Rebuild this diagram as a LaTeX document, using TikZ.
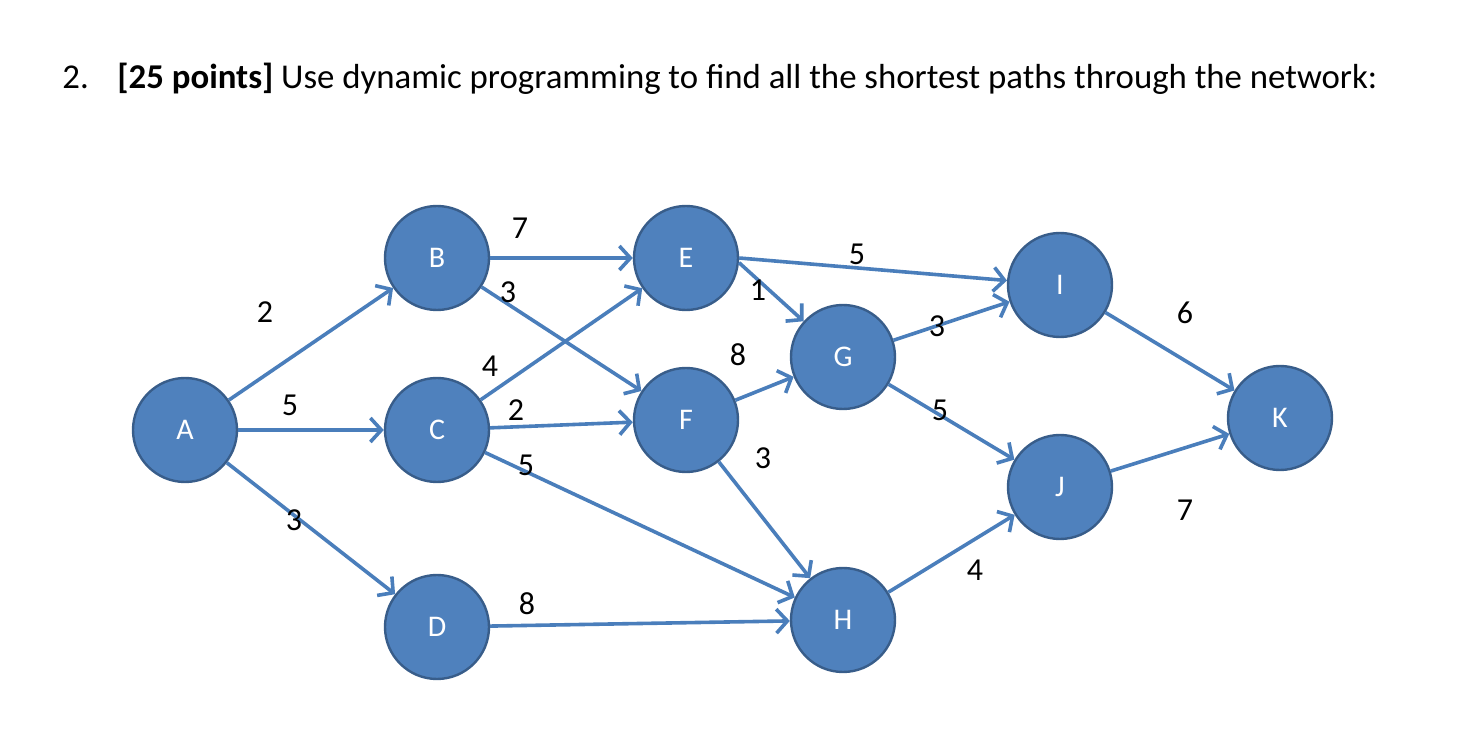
\documentclass[tikz,border=0pt]{standalone}
\usepackage{fontspec}
\setmainfont{Carlito}
\usetikzlibrary{arrows.meta}
\definecolor{nodeblue}{RGB}{79,129,189}
\definecolor{rimblue}{RGB}{56,93,138}
\definecolor{lineblue}{RGB}{74,126,187}
\begin{document}
\begin{tikzpicture}[x=0.5pt,y=-0.5pt,
  vertex/.style={circle,fill=nodeblue,draw=rimblue,line width=1.2pt,minimum size=52pt,inner sep=0pt,text=white,font=\fontsize{15}{17}\selectfont},
  edge/.style={draw=lineblue,line width=1.8pt,-{Straight Barb[length=5.5pt,width=12pt,line width=1.8pt]}},
  weight/.style={font=\fontsize{16}{18}\selectfont,inner sep=0pt}]
  \useasboundingbox (0,0) rectangle (1480,748);
  \node[anchor=base west,inner sep=0pt,font=\fontsize{17.4}{20}\selectfont] (title) at (62,89)
    {\makebox[27.5pt][l]{2.}\textbf{[25 points]} Use dynamic programming to find all the shortest paths through the network:};
  % nodes
  \node[vertex] (A) at (185,430) {A};
  \node[vertex] (B) at (437,258) {B};
  \node[vertex] (C) at (437,430) {C};
  \node[vertex] (D) at (437,627) {D};
  \node[vertex] (E) at (686,258) {E};
  \node[vertex] (F) at (686,420) {F};
  \node[vertex] (G) at (843,357) {G};
  \node[vertex] (H) at (843,620) {H};
  \node[vertex] (I) at (1060,285) {I};
  \node[vertex] (J) at (1060,487) {J};
  \node[vertex] (K) at (1280,418) {K};
  % arcs
  \draw[edge] (A) -- (B);
  \draw[edge] (A) -- (C);
  \draw[edge] (A) -- (D);
  \draw[edge] (B) -- (E);
  \draw[edge] (B) -- (F);
  \draw[edge] (C) -- (E);
  \draw[edge] (C) -- (F);
  \draw[edge] (C) -- (H);
  \draw[edge] (D) -- (H);
  \draw[edge] (E.east) -- (I);
  \draw[edge] (E.-5) -- (G);
  \draw[edge] (F) -- (G);
  \draw[edge] (F) -- (H);
  \draw[edge] (G) -- (I);
  \draw[edge] (G) -- (J);
  \draw[edge] (H) -- (J);
  \draw[edge] (I) -- (K);
  \draw[edge] (J) -- (K);
  % weights
  \node[weight] (wAB) at (265,312) {2};
  \node[weight] (wAC) at (290,405) {5};
  \node[weight] (wAD) at (294,520) {3};
  \node[weight] (wBE) at (520,228) {7};
  \node[weight] (wBF) at (508,292) {3};
  \node[weight] (wCE) at (490,366) {4};
  \node[weight] (wCF) at (516,410) {2};
  \node[weight] (wCH) at (526,465) {5};
  \node[weight] (wDH) at (527,604) {8};
  \node[weight] (wEI) at (857,254) {5};
  \node[weight] (wEG) at (758,290) {1};
  \node[weight] (wFG) at (738,355) {8};
  \node[weight] (wFH) at (763,458) {3};
  \node[weight] (wGI) at (937,326) {3};
  \node[weight] (wGJ) at (940,410) {5};
  \node[weight] (wHJ) at (975,570) {4};
  \node[weight] (wIK) at (1185,313) {6};
  \node[weight] (wJK) at (1185,510) {7};
\end{tikzpicture}
\end{document}
